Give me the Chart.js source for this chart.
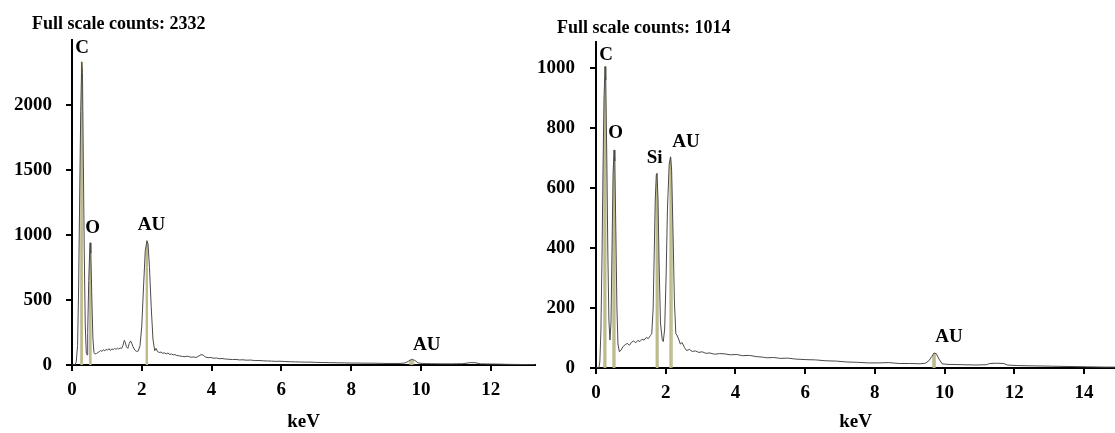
<!DOCTYPE html>
<html><head><meta charset="utf-8">
<script src="https://cdn.jsdelivr.net/npm/chart.js@4.4.0/dist/chart.umd.min.js"></script>
<style>
html,body{margin:0;padding:0;background:#fff;}
#wrap{position:relative;width:1115px;height:433px;overflow:hidden;background:#fff;}
canvas{position:absolute;left:0;top:0;}
</style></head><body>
<div id="wrap"><canvas id="cl" width="1115" height="433"></canvas><canvas id="cr" width="1115" height="433"></canvas></div>
<script>
// ---------- Left panel data ----------
const leftTitle = 'Full scale counts: 2332';
const leftKeV = [
 0.00,0.08,0.12,0.16,0.19,0.22,0.25,0.28,0.30,0.32,
 0.35,0.38,0.41,0.43,0.45,0.48,0.51,0.52,0.54,0.57,
 0.60,0.63,0.66,0.70,0.74,0.78,0.82,0.86,0.90,0.94,
 0.98,1.02,1.06,1.10,1.14,1.18,1.22,1.26,1.30,1.34,
 1.38,1.42,1.46,1.50,1.53,1.56,1.60,1.64,1.68,1.71,
 1.75,1.80,1.85,1.90,1.95,2.00,2.05,2.10,2.15,2.18,
 2.22,2.27,2.32,2.37,2.41,2.45,2.50,2.55,2.60,2.65,
 2.70,2.75,2.80,2.85,2.90,2.95,3.00,3.08,3.16,3.24,
 3.32,3.40,3.48,3.56,3.64,3.70,3.76,3.82,3.90,3.98,
 4.06,4.14,4.22,4.30,4.40,4.50,4.60,4.70,4.80,4.90,
 5.00,5.12,5.24,5.36,5.48,5.60,5.72,5.84,5.96,6.10,
 6.25,6.40,6.55,6.70,6.85,7.00,7.20,7.40,7.60,7.80,
 8.00,8.20,8.40,8.60,8.80,9.00,9.20,9.40,9.55,9.65,
 9.73,9.82,9.92,10.05,10.30,10.60,10.90,11.20,11.40,11.55,
 11.70,11.90,12.20,12.50,12.80,13.10,13.27
];
const leftCounts = [
 0,0,20,150,600,1300,1950,2332,2250,1700,
 900,300,90,78,250,650,900,940,860,500,
 200,95,85,88,96,102,112,104,118,110,
 120,114,126,112,124,118,128,120,130,122,
 132,126,150,190,172,140,128,165,185,168,
 140,115,104,108,150,300,600,880,956,930,
 750,450,200,110,128,104,96,100,90,94,
 86,92,82,84,78,80,74,70,66,64,
 68,60,62,58,70,80,76,62,56,58,
 52,54,48,50,46,44,42,43,39,40,
 37,38,34,35,32,31,30,28,29,27,
 25,24,23,22,22,20,19,18,17,16,
 15,15,14,14,13,12,12,12,16,30,
 44,36,16,11,10,9,9,10,18,18,
 9,8,7,5,4,3,2
];
const leftPeakKeV = [0.28, 0.52, 2.15, 9.73];
const leftPeakCounts = [2332, 940, 956, 44];
const leftLabels = ['C', 'O', 'AU', 'AU'];
const leftLabelKeV = [0.29, 0.59, 2.28, 10.17];
const leftLabelCounts = [2400, 1015, 1038, 115];
const leftXTicks = [0, 2, 4, 6, 8, 10, 12];
const leftYTicks = [0, 500, 1000, 1500, 2000];

// ---------- Right panel data ----------
const rightTitle = 'Full scale counts: 1014';
const rightKeV = [
 0.00,0.08,0.11,0.14,0.17,0.20,0.23,0.26,0.28,0.31,
 0.34,0.37,0.40,0.43,0.46,0.49,0.52,0.54,0.57,0.60,
 0.63,0.67,0.72,0.78,0.84,0.90,0.96,1.02,1.08,1.14,
 1.20,1.26,1.32,1.38,1.44,1.50,1.56,1.60,1.64,1.67,
 1.70,1.73,1.75,1.78,1.81,1.85,1.90,1.93,1.97,2.01,
 2.05,2.10,2.14,2.17,2.21,2.25,2.29,2.32,2.36,2.42,
 2.47,2.54,2.60,2.68,2.76,2.85,2.95,3.05,3.15,3.27,
 3.40,3.55,3.70,3.85,4.04,4.20,4.40,4.60,4.80,4.90,
 5.10,5.30,5.50,5.70,6.00,6.30,6.60,6.90,7.20,7.50,
 7.80,8.10,8.40,8.70,9.00,9.30,9.45,9.55,9.63,9.70,
 9.76,9.84,9.93,10.10,10.50,10.90,11.20,11.30,11.50,11.70,
 11.80,12.10,12.60,13.10,13.60,14.10,14.60,14.89
];
const rightCounts = [
 0,0,20,120,350,650,900,1005,960,700,
 380,160,93,150,400,650,727,690,450,200,
 80,54,60,72,78,82,76,86,90,84,
 92,88,96,93,102,98,108,115,200,380,
 560,645,649,560,350,150,95,88,130,300,
 530,680,704,660,450,220,115,110,100,80,
 85,68,58,62,55,57,52,54,49,50,
 46,48,47,44,45,41,42,38,36,34,
 35,32,33,30,28,27,24,23,20,19,
 17,17,18,15,15,14,16,24,38,50,
 48,30,14,12,11,10,11,15,16,15,
 10,8,7,6,5,4,3,3
];
const rightPeakKeV = [0.26, 0.52, 1.75, 2.14, 9.70];
const rightPeakCounts = [1005, 727, 649, 704, 50];
const rightLabels = ['C', 'O', 'Si', 'AU', 'AU'];
const rightLabelKeV = [0.29, 0.56, 1.68, 2.58, 10.13];
const rightLabelCounts = [1027, 767, 683, 737, 87];
const rightXTicks = [0, 2, 4, 6, 8, 10, 12, 14];
const rightYTicks = [0, 200, 400, 600, 800, 1000];

const FONT = 'Liberation Serif';
const LINE = '#4a4a4a';
const MARK = '#dcd8a0';
const FILLC = 'rgba(170,166,122,0.6)';

const textPlugin = {
  id: 'texts',
  afterDraw(chart) {
    const o = chart.options.plugins.texts;
    const {ctx, chartArea} = chart;
    const xs = chart.scales.x, ys = chart.scales.y;
    ctx.save();
    ctx.fillStyle = '#000';
    ctx.font = 'bold 19px "' + FONT + '"';
    ctx.textAlign = 'center';
    ctx.textBaseline = 'alphabetic';
    o.labels.forEach((t, i) => {
      ctx.fillText(t, xs.getPixelForValue(o.labelKeV[i]), ys.getPixelForValue(o.labelCounts[i]));
    });
    ctx.font = 'bold 18px "' + FONT + '"';
    ctx.textAlign = 'left';
    ctx.fillText(o.title, chartArea.left + o.titleDX, o.titleY);
    ctx.restore();
  }
};

function makeChart(id, keV, counts, peakKeV, peakCounts, labels, labelKeV, labelCounts,
                   xTicks, yTicks, title, geo) {
  const spectrum = keV.map((k, i) => ({x: k, y: counts[i]}));
  const inPeak = (a, b) => {
    const m = (a + b) / 2;
    return peakKeV.some(p => Math.abs(m - p) < geo.fillHalf);
  };
  const datasets = [{
    data: spectrum,
    borderColor: LINE,
    borderWidth: 1,
    pointRadius: 0,
    tension: 0,
    fill: 'origin',
    backgroundColor: 'rgba(0,0,0,0)',
    segment: {
      backgroundColor: c => inPeak(c.p0.parsed.x, c.p1.parsed.x) ? FILLC : 'rgba(0,0,0,0)'
    }
  }];
  peakKeV.forEach((k, i) => {
    datasets.push({
      data: [{x: k, y: 0}, {x: k, y: peakCounts[i]}],
      borderColor: MARK,
      borderWidth: 2,
      pointRadius: 0,
      fill: false
    });
  });
  const tickFont = {family: FONT, weight: 'bold', size: 19};
  return new Chart(document.getElementById(id), {
    type: 'line',
    data: {datasets},
    plugins: [textPlugin],
    options: {
      responsive: false,
      devicePixelRatio: 1,
      animation: false,
      events: [],
      layout: {padding: geo.padding},
      plugins: {
        legend: {display: false},
        tooltip: {enabled: false},
        texts: {labels, labelKeV, labelCounts, title, titleDX: geo.titleDX, titleY: geo.titleY}
      },
      scales: {
        x: {
          type: 'linear', min: 0, max: geo.xMax,
          afterBuildTicks: s => { s.ticks = xTicks.map(v => ({value: v})); },
          afterFit: s => { s.height = geo.xH; },
          border: {color: '#000', width: 2},
          grid: {drawOnChartArea: false, color: '#000', lineWidth: 2, tickLength: 6},
          ticks: {color: '#000', font: tickFont, padding: 8, maxRotation: 0, callback: v => String(v)},
          title: {display: true, text: 'keV', color: '#000', font: tickFont, padding: {top: 0, bottom: 0}}
        },
        y: {
          type: 'linear', min: 0, max: geo.yMax,
          afterBuildTicks: s => { s.ticks = yTicks.map(v => ({value: v})); },
          afterFit: s => { s.width = geo.yW; },
          border: {color: '#000', width: 2},
          grid: {drawOnChartArea: false, color: '#000', lineWidth: 2, tickLength: 6},
          ticks: {color: '#000', font: tickFont, padding: geo.yPad, callback: v => String(v)}
        }
      }
    }
  });
}

makeChart('cl', leftKeV, leftCounts, leftPeakKeV, leftPeakCounts, leftLabels, leftLabelKeV, leftLabelCounts,
  leftXTicks, leftYTicks, leftTitle,
  {padding: {left: 0, top: 40, right: 580, bottom: 0}, xMax: 13.27, yMax: 2500, xH: 68, yW: 72, yPad: 14,
   titleDX: -40, titleY: 29, fillHalf: 0.05});
makeChart('cr', rightKeV, rightCounts, rightPeakKeV, rightPeakCounts, rightLabels, rightLabelKeV, rightLabelCounts,
  rightXTicks, rightYTicks, rightTitle,
  {padding: {left: 520, top: 42, right: 0, bottom: 0}, xMax: 14.89, yMax: 1087, xH: 65, yW: 76, yPad: 15,
   titleDX: -39, titleY: 33, fillHalf: 0.05});
</script>
</body></html>
